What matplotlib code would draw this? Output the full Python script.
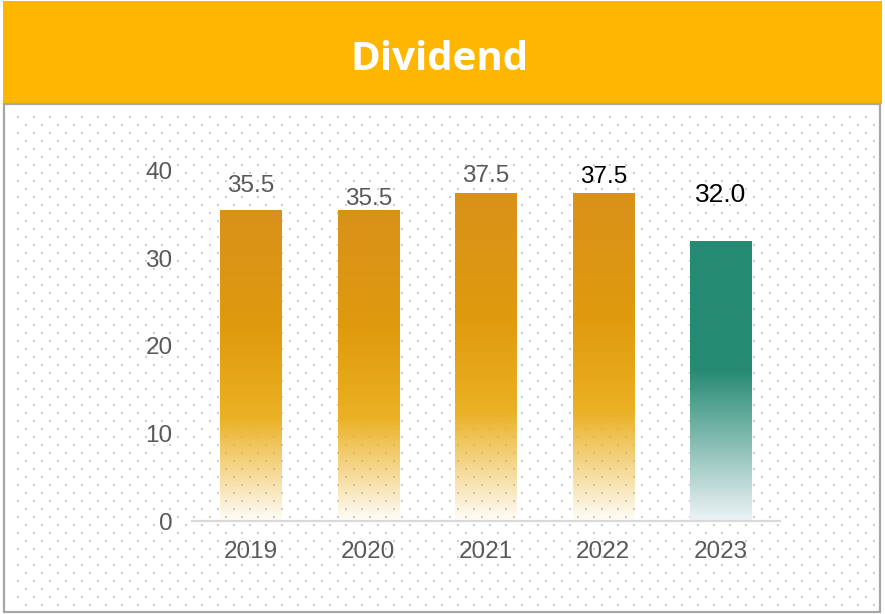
import matplotlib
matplotlib.use('Agg')
import matplotlib.pyplot as plt
import numpy as np
from matplotlib.colors import to_rgba
from matplotlib.patches import Rectangle

years = ['2019', '2020', '2021', '2022', '2023']
dividend = [35.5, 35.5, 37.5, 37.5, 32.0]
value_labels = ['35.5', '35.5', '37.5', '37.5', '32.0']
y_ticks = [0, 10, 20, 30, 40]

# label styling per bar (offset above bar top in points)
label_offsets = [17.5, 8.3, 11.8, 11.3, 32.8]
label_colors = ['#595959', '#595959', '#595959', '#000000', '#000000']
label_sizes = [17.5, 17.5, 17.5, 17.5, 19]

W, H = 885, 614
fig = plt.figure(figsize=(W / 100, H / 100), dpi=100)
fig.patch.set_facecolor('white')

# dotted background
bg = np.zeros((H, W, 4))
r = 0
y = 116
while y < 610:
    x = 17 + 8 * (r % 2)
    while x < 879:
        bg[y:y + 2, x:x + 2] = (0.8, 0.8, 0.8, 1.0)
        x += 16
    y += 8
    r += 1
fig.figimage(bg, xo=0, yo=0, origin='upper', zorder=-2)

# title band and border
fig.patches.append(Rectangle((3 / W, (H - 104) / H), 879 / W, 103 / H,
                             transform=fig.transFigure, facecolor='#FFB600',
                             edgecolor='none', zorder=-1))
fig.patches.append(Rectangle((4 / W, 2 / H), 876 / W, (H - 106) / H,
                             transform=fig.transFigure, facecolor='none',
                             edgecolor='#A6A6A6', linewidth=1.6, zorder=-1))
fig.text(439 / W, 1 - 59 / H, 'Dividend', ha='center', va='center',
         color='white', fontsize=29, fontweight='bold', family='Open Sans')

ax = fig.add_axes([192 / W, (H - 521) / H, 587.5 / W, 350 / H])
ax.patch.set_visible(False)

bars = ax.bar(range(len(years)), dividend, width=0.52, facecolor='none',
              edgecolor='none')


def gradient(stops, n=256):
    fr = np.linspace(0, 1, n)
    pos = [s[0] for s in stops]
    cols = np.array([to_rgba(s[1], s[2]) for s in stops])
    out = np.zeros((n, 1, 4))
    for k in range(4):
        out[:, 0, k] = np.interp(fr, pos, cols[:, k])
    return out


orange = gradient([(0.0, '#EBB124', 0.03), (0.33, '#EBB124', 1.0),
                   (0.62, '#E09A0E', 1.0), (1.0, '#D9911A', 1.0)])
green = gradient([(0.0, '#EDF3F6', 1.0), (0.54, '#268A73', 1.0),
                  (1.0, '#268A73', 1.0)])

for i, b in enumerate(bars):
    grad = green if i == len(bars) - 1 else orange
    x0, w, h = b.get_x(), b.get_width(), b.get_height()
    im = ax.imshow(grad, extent=[x0, x0 + w, 0, h], origin='lower',
                   aspect='auto', interpolation='bilinear', zorder=2)
    im.set_clip_path(b)
    ax.annotate(value_labels[i], (b.get_x() + w / 2, h),
                xytext=(0, label_offsets[i]), textcoords='offset points',
                ha='center', va='center', color=label_colors[i],
                fontsize=label_sizes[i], family='Liberation Sans',
                annotation_clip=False)

ax.set_xlim(-0.5, len(years) - 0.5)
ax.set_ylim(0, 40)
ax.set_xticks(range(len(years)))
ax.set_xticklabels(years)
ax.set_yticks(y_ticks)
for lab in ax.get_xticklabels() + ax.get_yticklabels():
    lab.set_family('Liberation Sans')
    lab.set_fontsize(17.5)
    lab.set_color('#595959')
ax.tick_params(axis='both', length=0)
ax.tick_params(axis='y', pad=14)
ax.tick_params(axis='x', pad=14.5)
for s in ['top', 'right', 'left']:
    ax.spines[s].set_visible(False)
ax.spines['bottom'].set_color('#D9D9D9')
ax.spines['bottom'].set_linewidth(1.6)
ax.spines['bottom'].set_zorder(3)

fig.savefig('out.png', dpi=100)
